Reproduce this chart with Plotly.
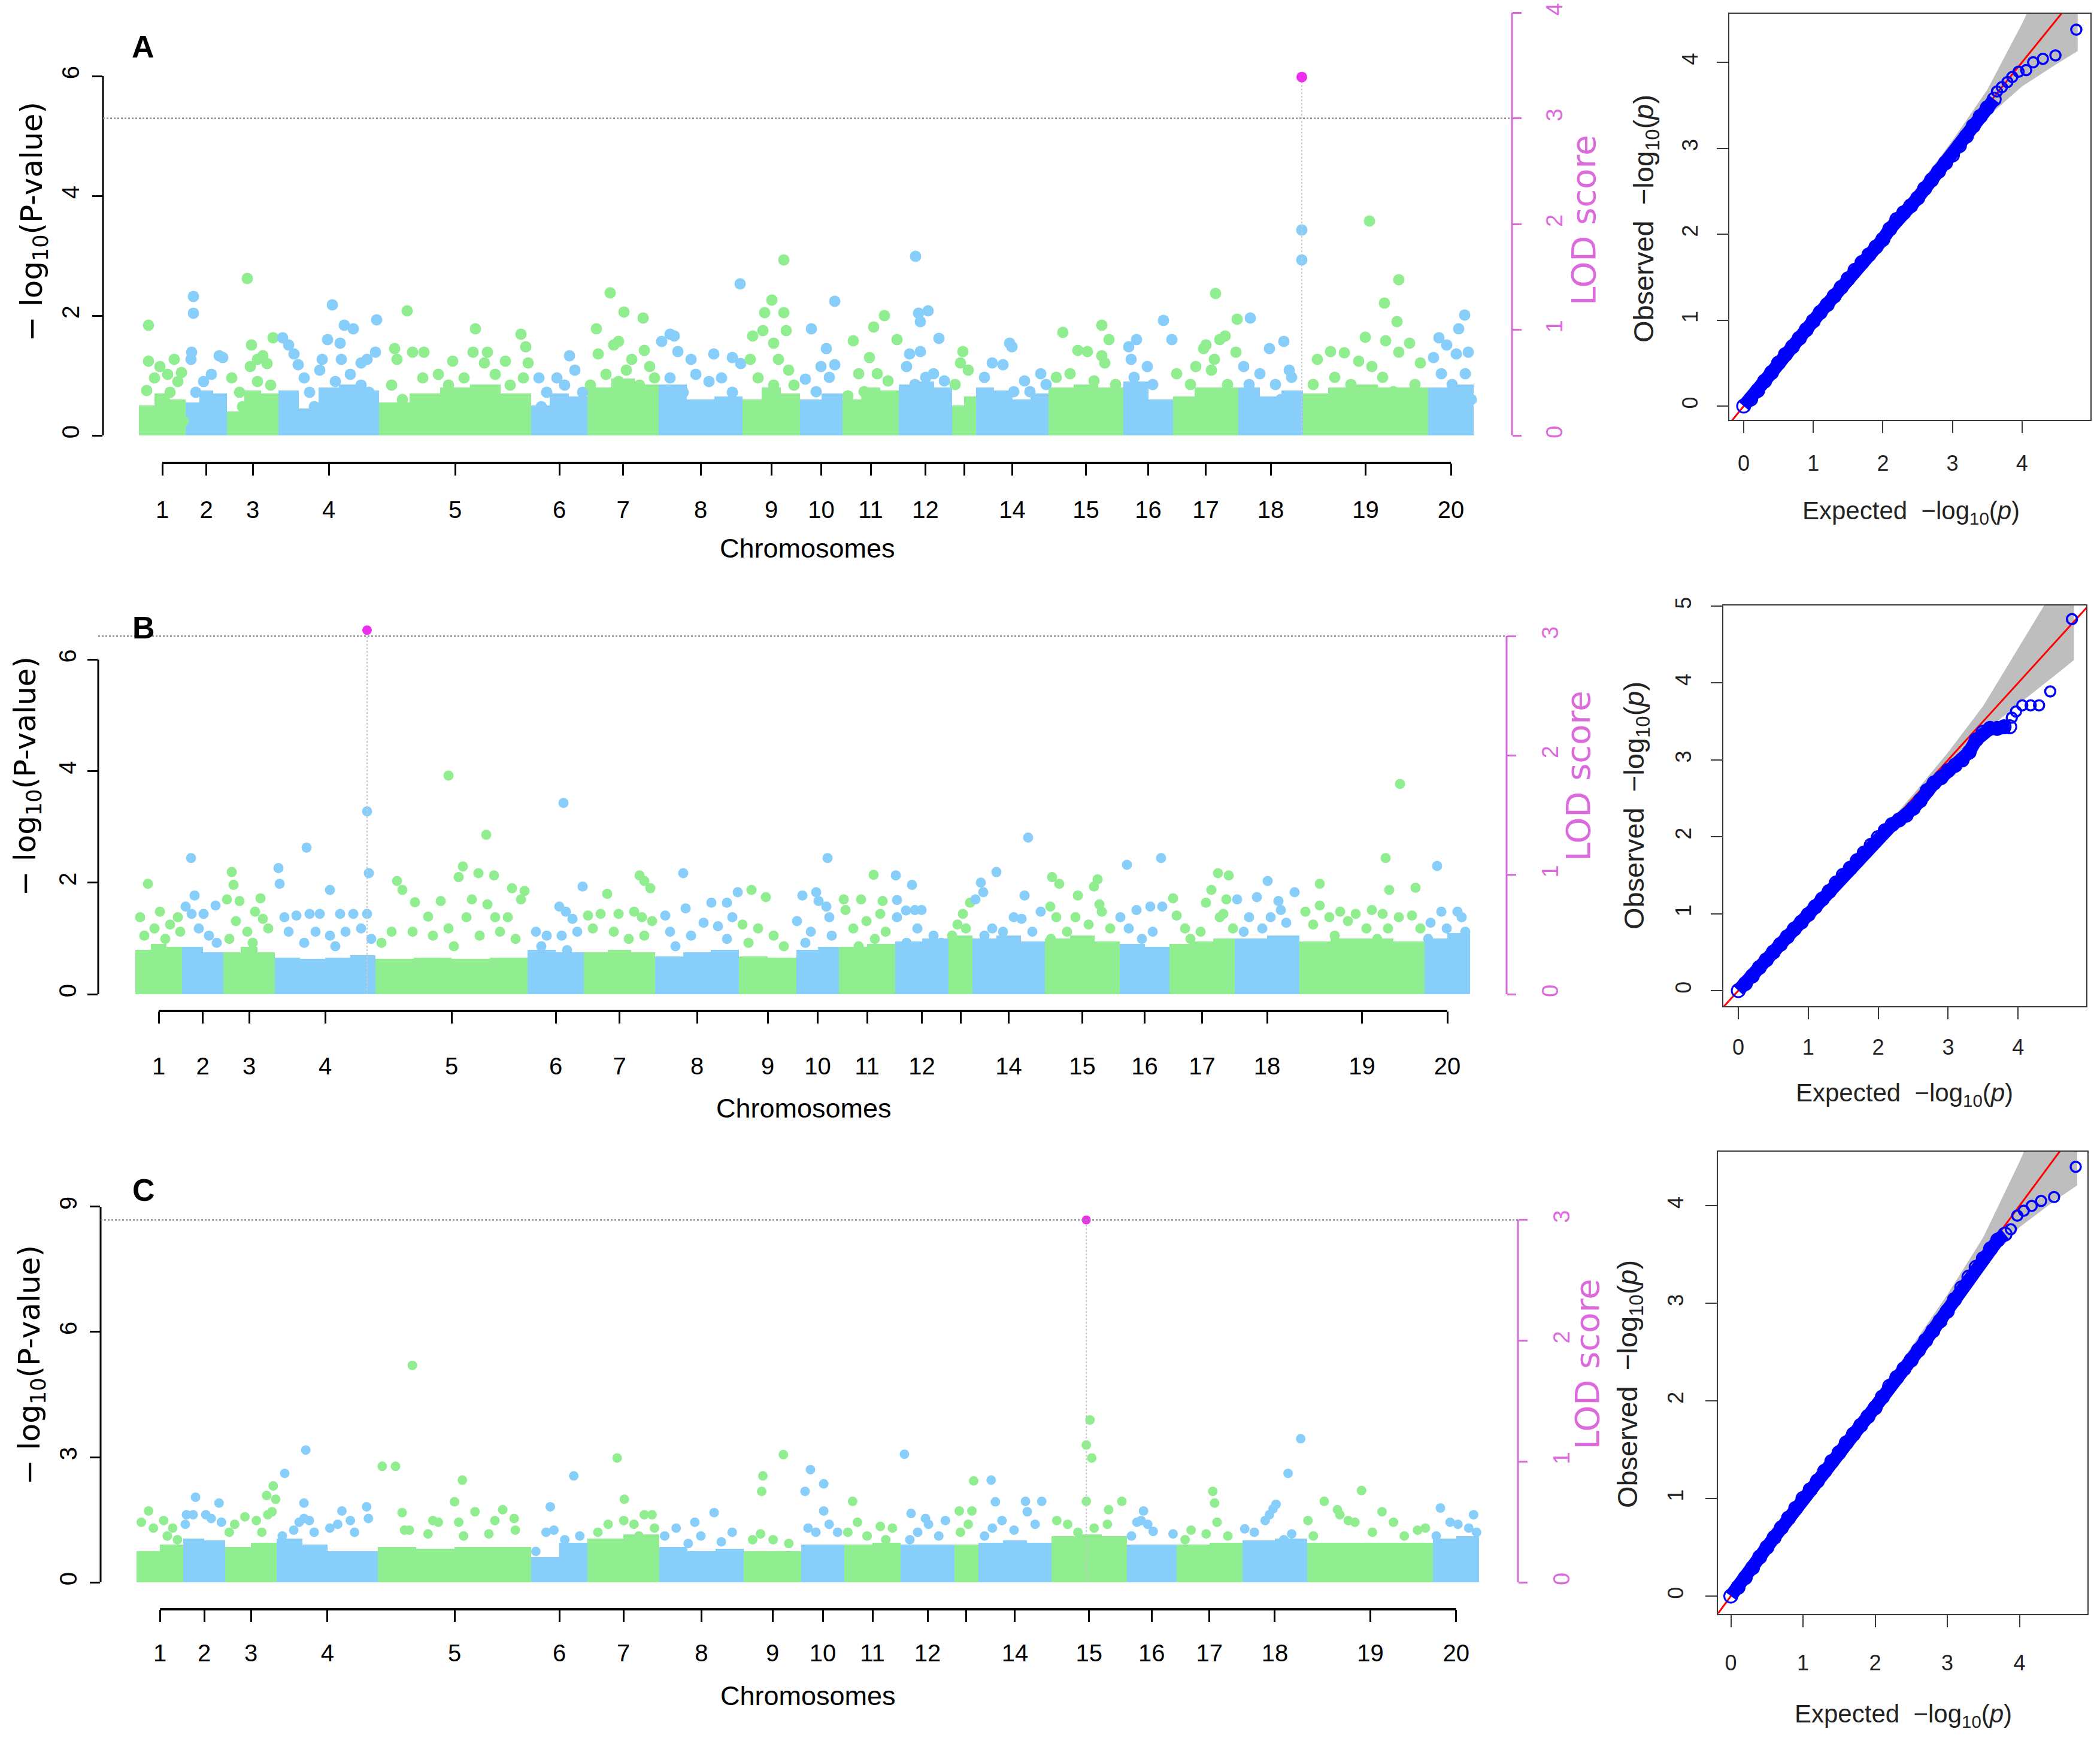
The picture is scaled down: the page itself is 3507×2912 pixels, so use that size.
import numpy as np
import plotly.graph_objects as go

W, H = 3507, 2912

# chromosome layout (relative lengths on the genome axis)
CHROM_NAMES = [str(i) for i in range(1, 21)]
CHROM_LEN = [78, 69, 86, 168, 254, 94, 119, 140, 96, 71, 94, 89, 40, 121, 125, 83, 109, 108, 209, 76]
GREEN, BLUE = "#90EE90", "#87CEFA"

# ---------------- panel A ----------------
A_SNPS = [
    (16, 1.84), (16, 1.24), (13, 0.75), (26, 0.96), (35, 1.15), (48, 1.02), (59, 1.27), (65, 0.9), (52, 0.72),
    (69, 0.42), (22, 0.36), (35, 0.6), (71, 1.05), (74, 0.24),
    (91, 2.32), (91, 2.04), (88, 1.39), (87, 1.27), (134, 1.33), (140, 1.30), (108, 0.9), (121, 1.02), (95, 0.72),
    (130, 0.6), (112, 0.48),
    (181, 2.62), (188, 1.51), (224, 1.63), (198, 1.27), (186, 1.15), (207, 1.33), (214, 1.2), (155, 0.96),
    (168, 0.72), (198, 0.9), (220, 0.84), (173, 0.48),
    (240, 1.63), (250, 1.51), (259, 1.36), (266, 1.18), (323, 2.18), (315, 1.6), (336, 1.54), (338, 1.27),
    (343, 1.84), (358, 1.78), (397, 1.93), (395, 1.39), (306, 1.27), (302, 1.09), (371, 1.21), (381, 1.27),
    (276, 0.96), (285, 0.72), (353, 1.02), (328, 0.9), (371, 0.84), (384, 0.72), (293, 0.48), (388, 0.36), (250, 0.6),
    (448, 2.08), (427, 1.45), (431, 1.27), (457, 1.39), (476, 1.39), (524, 1.24), (562, 1.78), (558, 1.39),
    (582, 1.39), (577, 1.21), (612, 1.24), (638, 1.69), (646, 1.48), (650, 1.21), (642, 0.96), (422, 0.84),
    (474, 0.96), (500, 1.02), (517, 0.84), (543, 0.96), (595, 1.02), (620, 0.84), (440, 0.6), (491, 0.48),
    (569, 0.6), (629, 0.48),
    (719, 1.33), (668, 0.96), (681, 0.72), (698, 0.96), (711, 0.84), (728, 1.09), (741, 0.72), (672, 0.48), (724, 0.42),
    (787, 2.38), (810, 2.06), (842, 1.96), (764, 1.78), (801, 1.57), (793, 1.51), (767, 1.36), (844, 1.42),
    (823, 1.27), (814, 1.09), (780, 1.02), (853, 1.15), (754, 0.84), (801, 0.9), (836, 0.84), (861, 0.96),
    (873, 1.57), (887, 1.69), (894, 1.66), (900, 1.4), (922, 1.27), (960, 1.36), (991, 1.3), (1004, 2.53),
    (1005, 1.2), (887, 0.96), (930, 1.02), (952, 0.9), (973, 0.96), (909, 0.72), (991, 0.72),
    (1077, 2.93), (1057, 2.26), (1045, 2.05), (1077, 2.05), (1042, 1.75), (1081, 1.75), (1025, 1.66), (1021, 1.27),
    (1060, 1.54), (1068, 1.27), (1085, 1.09), (1034, 0.96), (1060, 0.84), (1094, 0.84),
    (1162, 2.24), (1123, 1.78), (1148, 1.45), (1139, 1.15), (1162, 1.18), (1113, 0.94), (1131, 0.73), (1153, 0.97),
    (1166, 0.6), (1122, 0.36),
    (1245, 2.0), (1227, 1.81), (1193, 1.58), (1266, 1.6), (1220, 1.3), (1202, 1.03), (1233, 1.03), (1251, 0.91),
    (1211, 0.73), (1184, 0.66), (1260, 0.6),
    (1297, 2.99), (1302, 2.04), (1318, 2.08), (1305, 1.9), (1336, 1.62), (1305, 1.4), (1287, 1.36), (1282, 1.15),
    (1327, 1.03), (1345, 0.91), (1296, 0.85), (1314, 0.97),
    (1376, 1.4), (1372, 1.21), (1385, 1.09), (1363, 0.85), (1389, 0.48),
    (1454, 1.54), (1458, 1.48), (1425, 1.21), (1443, 1.18), (1412, 0.97), (1479, 0.91), (1506, 1.03), (1488, 0.73),
    (1461, 0.73), (1515, 0.85),
    (1608, 1.84), (1543, 1.72), (1620, 1.6), (1568, 1.42), (1584, 1.4), (1608, 1.33), (1613, 1.21), (1532, 0.97),
    (1555, 1.03), (1595, 0.91), (1631, 0.85), (1568, 0.66),
    (1711, 1.92), (1725, 1.6), (1666, 1.6), (1653, 1.48), (1657, 1.27), (1684, 1.15), (1662, 0.97), (1693, 0.85),
    (1711, 0.48),
    (1798, 2.37), (1834, 1.94), (1814, 1.66), (1805, 1.6), (1782, 1.51), (1778, 1.45), (1832, 1.39), (1796, 1.27),
    (1765, 1.15), (1733, 1.03), (1791, 1.09), (1756, 0.85), (1818, 0.85),
    (1856, 1.96), (1912, 1.57), (1888, 1.45), (1845, 1.15), (1872, 1.03), (1921, 1.09), (1925, 0.97), (1898, 0.85),
    (1854, 0.85), (1907, 0.6), (1942, 3.43), (1942, 2.93),
    (2055, 3.58), (2104, 2.6), (2080, 2.21), (2101, 1.9), (2048, 1.64), (2082, 1.58), (1990, 1.4), (2013, 1.38),
    (1968, 1.27), (2122, 1.54), (2104, 1.39), (2140, 1.21), (2037, 1.24), (1997, 0.97), (2059, 1.15), (2077, 0.97),
    (1961, 0.85), (2024, 0.85), (2131, 0.85), (2095, 0.73), (1979, 0.6),
    (2214, 2.01), (2204, 1.78), (2171, 1.63), (2184, 1.51), (2200, 1.36), (2220, 1.39), (2162, 1.3), (2215, 1.03),
    (2175, 1.03), (2193, 0.85), (2225, 0.6),
]
# height of the dense low-signal mass, a few sections per chromosome
A_BAND = [[0.5, 0.7, 0.6], [0.55, 0.75, 0.7], [0.4, 0.75, 0.7], [0.75, 0.45, 0.8, 0.85, 0.75],
          [0.55, 0.7, 0.8, 0.85, 0.7], [0.5, 0.7, 0.65], [0.8, 0.95, 0.85], [0.85, 0.6, 0.65], [0.6, 0.8, 0.7],
          [0.6, 0.7], [0.6, 0.8, 0.75], [0.85, 0.9, 0.8], [0.5, 0.65], [0.8, 0.75, 0.6, 0.7], [0.8, 0.85, 0.8],
          [0.9, 0.6], [0.65, 0.8, 0.8], [0.8, 0.65, 0.75], [0.7, 0.8, 0.85, 0.8, 0.8], [0.8, 0.85]]
A_PEAK = (1942, 3.39)   # position, LOD

# ---------------- panel B ----------------
B_SNPS = [
    (21, 1.98), (8, 1.38), (41, 1.48), (32, 1.18), (58, 1.25), (71, 1.38), (15, 1.05), (50, 0.99), (75, 1.12),
    (93, 2.44), (99, 1.77), (84, 1.57), (94, 1.44), (114, 1.44), (134, 1.59), (106, 1.18), (123, 1.05), (136, 0.92),
    (161, 2.19), (164, 1.96), (153, 1.7), (174, 1.67), (209, 1.72), (168, 1.31), (200, 1.48), (213, 1.35),
    (222, 1.18), (187, 1.12), (157, 0.99), (196, 0.92),
    (239, 2.26), (241, 1.98), (286, 2.63), (325, 1.87), (249, 1.38), (269, 1.41), (291, 1.44), (308, 1.44),
    (342, 1.44), (364, 1.44), (387, 1.44), (256, 1.12), (282, 0.92), (325, 1.05), (377, 1.18), (394, 0.99),
    (334, 0.86), (301, 1.12), (351, 1.12), (387, 3.28), (390, 2.17),
    (523, 3.92), (586, 2.86), (547, 2.29), (540, 2.1), (573, 2.17), (599, 2.13), (437, 2.03), (446, 1.87),
    (467, 1.65), (489, 1.39), (510, 1.67), (562, 1.7), (588, 1.61), (629, 1.9), (650, 1.85), (644, 1.7),
    (601, 1.38), (622, 1.38), (553, 1.38), (523, 1.18), (428, 1.12), (463, 1.12), (497, 1.05), (575, 1.05),
    (609, 1.12), (635, 0.99), (532, 0.86), (411, 0.92),
    (715, 3.43), (747, 1.93), (708, 1.57), (719, 1.48), (730, 1.35), (669, 1.12), (687, 1.05), (712, 1.05),
    (738, 1.12), (678, 0.86), (721, 0.79),
    (788, 1.8), (842, 2.13), (850, 2.03), (860, 1.9), (756, 1.41), (777, 1.44), (807, 1.44), (833, 1.48),
    (846, 1.38), (863, 1.31), (764, 1.18), (799, 1.12), (824, 0.99), (850, 1.05),
    (915, 2.17), (885, 1.41), (919, 1.54), (962, 1.64), (988, 1.64), (1006, 1.83), (949, 1.28), (973, 1.22),
    (997, 1.38), (893, 1.12), (928, 1.05), (988, 0.99), (902, 0.86),
    (1029, 1.87), (1053, 1.74), (1014, 1.25), (1040, 1.18), (1066, 1.05), (1083, 0.86), (1024, 0.92),
    (1156, 2.44), (1114, 1.77), (1137, 1.83), (1141, 1.67), (1154, 1.57), (1159, 1.38), (1105, 1.31), (1128, 1.12),
    (1163, 1.05), (1119, 0.92),
    (1233, 2.14), (1212, 1.7), (1183, 1.7), (1248, 1.67), (1186, 1.51), (1244, 1.44), (1221, 1.31), (1199, 1.18),
    (1253, 1.12), (1235, 0.99), (1208, 0.86),
    (1270, 2.13), (1297, 1.96), (1272, 1.69), (1287, 1.5), (1302, 1.51), (1313, 1.51), (1272, 1.38), (1306, 1.18),
    (1333, 1.05), (1346, 0.92), (1288, 0.92),
    (1394, 1.64), (1382, 1.44), (1373, 1.25), (1364, 1.05), (1387, 1.18),
    (1491, 2.81), (1438, 2.19), (1412, 2.0), (1416, 1.83), (1485, 1.77), (1403, 1.7), (1467, 1.38), (1480, 1.35),
    (1512, 1.48), (1431, 1.18), (1449, 1.12), (1498, 1.12), (1418, 1.05),
    (1531, 2.1), (1543, 1.98), (1607, 2.06), (1601, 1.93), (1574, 1.77), (1610, 1.61), (1528, 1.57), (1538, 1.38),
    (1570, 1.38), (1614, 1.48), (1592, 1.25), (1628, 1.18), (1556, 1.12), (1529, 0.99),
    (1656, 2.32), (1713, 2.44), (1672, 1.51), (1695, 1.57), (1715, 1.57), (1645, 1.38), (1659, 1.18), (1699, 1.12),
    (1681, 0.99),
    (1808, 2.17), (1826, 2.13), (1797, 1.87), (1733, 1.72), (1822, 1.7), (1788, 1.64), (1817, 1.44), (1811, 1.38),
    (1739, 1.41), (1753, 1.18), (1779, 1.12), (1833, 1.18), (1762, 0.99),
    (1891, 2.03), (1873, 1.74), (1840, 1.7), (1936, 1.83), (1909, 1.67), (1913, 1.51), (1860, 1.38), (1896, 1.38),
    (1882, 1.18), (1922, 1.28), (1851, 1.12),
    (2112, 3.77), (2088, 2.44), (2094, 1.87), (2138, 1.91), (1978, 1.98), (1978, 1.59), (1954, 1.48), (2012, 1.48),
    (2038, 1.44), (2065, 1.51), (2083, 1.44), (2110, 1.38), (2132, 1.41), (1967, 1.25), (1994, 1.38), (2025, 1.31),
    (2056, 1.18), (2092, 1.18), (2146, 1.18), (2003, 1.05), (2074, 0.99),
    (2174, 2.3), (2181, 1.48), (2208, 1.48), (2215, 1.38), (2163, 1.28), (2190, 1.18), (2221, 1.12), (2159, 0.99),
    (2201, 0.86),
]
B_BAND = [[0.8, 0.9, 0.85], [0.85, 0.75], [0.75, 0.85, 0.75], [0.65, 0.63, 0.65, 0.7], [0.63, 0.66, 0.63, 0.66],
          [0.8, 0.75], [0.75, 0.8, 0.75], [0.68, 0.75, 0.8], [0.68, 0.65], [0.8, 0.85], [0.85, 0.9], [0.95, 1.0],
          [1.05], [1.0, 1.05, 0.95], [1.0, 1.05, 0.95], [0.9, 0.85], [0.9, 0.95, 1.0], [1.0, 1.05],
          [0.95, 1.0, 1.0, 0.95], [1.0, 1.1]]
B_PEAK = (387, 3.05)

# ---------------- panel C ----------------
C_SNPS = [
    (20, 1.71), (8, 1.44), (28, 1.3), (45, 1.48), (60, 1.3), (51, 1.11), (68, 1.02),
    (98, 2.04), (83, 1.62), (94, 1.62), (137, 1.9), (115, 1.62), (124, 1.53), (141, 1.44), (81, 1.39),
    (216, 2.08), (227, 2.31), (231, 1.99), (218, 1.62), (225, 1.69), (180, 1.57), (199, 1.48), (163, 1.39),
    (154, 1.2), (208, 1.2),
    (281, 3.17), (246, 2.61), (278, 1.9), (278, 1.53), (270, 1.44), (287, 1.48), (341, 1.71), (382, 1.81),
    (385, 1.53), (261, 1.25), (295, 1.2), (321, 1.3), (334, 1.39), (355, 1.48), (362, 1.2), (242, 1.11),
    (458, 5.2), (408, 2.78), (430, 2.78), (541, 2.45), (528, 1.93), (562, 1.69), (608, 1.74), (627, 1.53),
    (441, 1.67), (445, 1.25), (453, 1.25), (492, 1.48), (501, 1.44), (535, 1.44), (595, 1.48), (585, 1.16),
    (629, 1.25), (484, 1.16), (543, 1.11),
    (726, 2.55), (687, 1.81), (693, 1.25), (680, 1.2), (736, 1.11), (711, 1.02), (663, 0.74),
    (798, 2.98), (810, 1.99), (843, 1.62), (856, 1.62), (809, 1.48), (783, 1.39), (766, 1.2), (826, 1.39),
    (860, 1.3), (834, 1.11),
    (959, 1.67), (927, 1.44), (896, 1.3), (877, 1.11), (937, 1.11), (989, 1.2), (916, 0.93), (971, 0.97),
    (1074, 3.06), (1040, 2.55), (1038, 2.18), (1036, 1.16), (1023, 1.02), (1057, 1.02), (1083, 0.93),
    (1119, 2.7), (1110, 2.18), (1141, 2.36), (1141, 1.71), (1150, 1.39), (1115, 1.3), (1128, 1.2), (1164, 1.2),
    (1189, 1.94), (1197, 1.44), (1235, 1.34), (1255, 1.3), (1181, 1.2), (1213, 1.11), (1244, 1.02),
    (1275, 3.07), (1286, 1.65), (1310, 1.53), (1315, 1.39), (1343, 1.48), (1332, 1.11), (1297, 1.2), (1284, 1.02),
    (1390, 2.43), (1366, 1.71), (1387, 1.71), (1381, 1.39), (1368, 1.2),
    (1419, 2.45), (1426, 1.93), (1476, 1.94), (1503, 1.94), (1479, 1.69), (1437, 1.48), (1421, 1.3), (1457, 1.25),
    (1492, 1.39), (1408, 1.11),
    (1583, 3.89), (1577, 3.29), (1586, 2.98), (1577, 1.94), (1614, 1.74), (1636, 1.94), (1612, 1.39), (1546, 1.39),
    (1528, 1.48), (1590, 1.3), (1563, 1.2),
    (1672, 1.71), (1668, 1.48), (1661, 1.44), (1679, 1.39), (1688, 1.22), (1721, 1.16), (1652, 1.11),
    (1787, 2.18), (1790, 1.9), (1794, 1.44), (1751, 1.25), (1776, 1.16), (1812, 1.11), (1741, 1.02),
    (1933, 3.44), (1912, 2.61), (1892, 1.87), (1887, 1.76), (1881, 1.62), (1874, 1.48), (1840, 1.28), (1856, 1.2),
    (1918, 1.16), (1905, 1.02),
    (2034, 2.2), (1972, 1.94), (1994, 1.74), (2068, 1.69), (1945, 1.48), (1998, 1.62), (2012, 1.48), (2023, 1.44),
    (2087, 1.44), (2127, 1.25), (2140, 1.3), (1954, 1.11), (2052, 1.2), (2105, 1.11),
    (2165, 1.78), (2220, 1.62), (2181, 1.44), (2194, 1.39), (2212, 1.3), (2225, 1.2), (2158, 1.11),
]
C_BAND = [[0.75, 0.9], [1.05, 1.0], [0.85, 0.95], [1.05, 0.9, 0.75, 0.75], [0.85, 0.8, 0.85, 0.85], [0.6, 0.95],
          [1.05, 1.15], [0.85, 0.75, 0.8], [0.75, 0.75], [0.9, 0.9], [0.9, 0.95], [0.9, 0.9], [0.9],
          [0.95, 1.0, 0.95], [1.1, 1.15, 1.1], [0.9, 0.9], [0.9, 0.95], [1.0, 1.05], [0.95, 0.95, 0.95], [1.05, 1.1]]
C_PEAK = (1577, 3.0)

LOD_THRESHOLD = 3

# ---------------- QQ plots (expected, observed) ----------------
QQ_A_DENSE = [(0.0, 0.0), (0.1, 0.08), (0.2, 0.18), (0.3, 0.29), (0.4, 0.39), (0.5, 0.5), (0.6, 0.6), (0.7, 0.69),
              (0.8, 0.79), (0.9, 0.89), (1.0, 0.99), (1.1, 1.09), (1.2, 1.18), (1.3, 1.28), (1.4, 1.38), (1.5, 1.48),
              (1.6, 1.58), (1.7, 1.67), (1.8, 1.76), (1.9, 1.85), (2.0, 1.94), (2.1, 2.06), (2.2, 2.17), (2.3, 2.25),
              (2.4, 2.33), (2.5, 2.42), (2.6, 2.53), (2.7, 2.63), (2.8, 2.73), (2.9, 2.83), (3.0, 2.92), (3.1, 3.03),
              (3.2, 3.14), (3.3, 3.26), (3.4, 3.37), (3.5, 3.47), (3.6, 3.57)]
QQ_A_TOP = [(3.64, 3.66), (3.71, 3.71), (3.79, 3.77), (3.86, 3.83), (3.95, 3.89), (4.06, 3.91), (4.16, 4.0),
            (4.30, 4.04), (4.48, 4.08), (4.78, 4.38)]
QQ_B_DENSE = [(0.0, 0.0), (0.1, 0.09), (0.2, 0.19), (0.3, 0.3), (0.4, 0.4), (0.5, 0.5), (0.6, 0.6), (0.7, 0.7),
              (0.8, 0.8), (0.9, 0.89), (1.0, 0.99), (1.1, 1.09), (1.2, 1.19), (1.3, 1.29), (1.4, 1.4), (1.5, 1.5),
              (1.6, 1.59), (1.7, 1.69), (1.8, 1.79), (1.9, 1.89), (2.0, 1.99), (2.1, 2.08), (2.2, 2.16), (2.3, 2.22),
              (2.4, 2.28), (2.5, 2.37), (2.6, 2.47), (2.7, 2.6), (2.8, 2.7), (2.9, 2.77), (3.0, 2.86), (3.1, 2.93),
              (3.2, 3.0), (3.3, 3.1), (3.4, 3.26), (3.5, 3.36), (3.6, 3.41), (3.7, 3.41), (3.8, 3.43), (3.88, 3.43)]
QQ_B_TOP = [(3.91, 3.55), (3.97, 3.63), (4.06, 3.71), (4.18, 3.71), (4.30, 3.71), (4.46, 3.89), (4.77, 4.83)]
QQ_C_DENSE = [(0.0, 0.0), (0.1, 0.09), (0.2, 0.19), (0.3, 0.29), (0.4, 0.4), (0.5, 0.5), (0.6, 0.6), (0.7, 0.7),
              (0.8, 0.8), (0.9, 0.9), (1.0, 1.0), (1.1, 1.09), (1.2, 1.18), (1.3, 1.28), (1.4, 1.38), (1.5, 1.47),
              (1.6, 1.57), (1.7, 1.66), (1.8, 1.75), (1.9, 1.84), (2.0, 1.93), (2.1, 2.04), (2.2, 2.15), (2.3, 2.24),
              (2.4, 2.33), (2.5, 2.42), (2.6, 2.52), (2.7, 2.62), (2.8, 2.72), (2.9, 2.82), (3.0, 2.92), (3.1, 3.04),
              (3.2, 3.16), (3.3, 3.27), (3.4, 3.37), (3.5, 3.46), (3.6, 3.56), (3.7, 3.65), (3.8, 3.71)]
QQ_C_TOP = [(3.88, 3.76), (3.97, 3.90), (4.06, 3.95), (4.17, 4.0), (4.30, 4.05), (4.48, 4.09), (4.78, 4.40)]

# 95% band around the diagonal
CI_EXP = [2.0, 2.5, 3.0, 3.5, 4.0, 4.5, 4.8]
CI_A_UP = [2.03, 2.55, 3.09, 3.68, 4.45, 5.3, 5.9]
CI_A_LO = [1.97, 2.45, 2.92, 3.36, 3.72, 3.98, 4.13]
CI_B_UP = [2.03, 2.55, 3.1, 3.7, 4.45, 5.2, 5.8]
CI_B_LO = [1.97, 2.45, 2.92, 3.35, 3.72, 4.08, 4.3]
CI_C_UP = [2.03, 2.55, 3.09, 3.68, 4.45, 5.3, 5.9]
CI_C_LO = [1.97, 2.45, 2.92, 3.38, 3.78, 4.06, 4.21]

# ---------------- page geometry (pixels) ----------------
MAN_GEOM = [
    dict(left=172, right=2525, top=21, bottom=773, cum0=232, ppu=1.0, y0=727, ppl=100.0, ppd=176.5,
         yticks=[0, 2, 4, 6], lodticks=[0, 1, 2, 3, 4], size=19, label="A", label_xy=(239, 78),
         ytitle=(56, 370), lodtitle=(2644, 368), xtitle=(1348, 915), xstand=23, ystand=6, lodstand=22),
    dict(left=164, right=2516, top=1030, bottom=1688, cum0=226, ppu=1.0, y0=1660, ppl=93.1, ppd=199.3,
         yticks=[0, 2, 4, 6], lodticks=[0, 1, 2, 3], size=17, label="B", label_xy=(240, 1048),
         ytitle=(45, 1296), lodtitle=(2635, 1296), xtitle=(1342, 1850), xstand=37, ystand=3, lodstand=24),
    dict(left=168, right=2535, top=1995, bottom=2687, cum0=228, ppu=1.0058, y0=2642, ppl=69.67, ppd=201.7,
         yticks=[0, 3, 6, 9], lodticks=[0, 1, 2, 3], size=16, label="C", label_xy=(240, 1987),
         ytitle=(52, 2279), lodtitle=(2650, 2278), xtitle=(1349, 2831), xstand=18, ystand=6, lodstand=24),
]
QQ_GEOM = [
    dict(left=2888, right=3491, top=23, bottom=701, x0=2912, ppx=116.2, y0=678, ppy=143.5,
         yticks=[0, 1, 2, 3, 4], obs=(2748, 365), exp=(3191, 855), xstand=20, ystand=18),
    dict(left=2878, right=3484, top=1011, bottom=1680, x0=2903, ppx=116.8, y0=1654, ppy=128.4,
         yticks=[0, 1, 2, 3, 4, 5], obs=(2732, 1345), exp=(3180, 1827), xstand=16, ystand=19),
    dict(left=2869, right=3486, top=1923, bottom=2695, x0=2890.5, ppx=120.5, y0=2665, ppy=162.9,
         yticks=[0, 1, 2, 3, 4], obs=(2721, 2311), exp=(3178, 2864), xstand=29, ystand=23),
]

# the capture sits the page slightly low near the top; undo it
Y_OFF, Y_SCALE = 16, 0.9945

SANS = "Liberation Sans, Arial, sans-serif"
LOD_COL = "#D768D7"
LOD_TXT = "#DD6ADD"
PEAK_COL = "#EE2EEE"


def fx(px):
    return px / W


def fy(py):
    return 1 - ((py - Y_OFF) / Y_SCALE) / H


def aref(letter, n):
    return letter if n == 1 else f"{letter}{n}"


def akey(letter, n):
    return f"{letter}axis" if n == 1 else f"{letter}axis{n}"


starts = np.concatenate([[0], np.cumsum(CHROM_LEN)[:-1]])
mids = starts + np.array(CHROM_LEN) / 2.0
chrom_cols = [GREEN if i % 2 == 0 else BLUE for i in range(len(CHROM_LEN))]
# R dropped the overlapping "13" label
tick_text = ["" if c == "13" else c for c in CHROM_NAMES]


def band_bars(band):
    xs, ws, hs, cs = [], [], [], []
    for c, heights in enumerate(band):
        w = CHROM_LEN[c] / len(heights)
        for j, h in enumerate(heights):
            xs.append(starts[c] + (j + 0.5) * w)
            ws.append(w)
            hs.append(h)
            cs.append(chrom_cols[c])
    return xs, ws, hs, cs


fig = go.Figure()
layout = {}
shapes = []
annots = []

panels = [
    (A_SNPS, A_BAND, A_PEAK, QQ_A_DENSE, QQ_A_TOP, CI_A_UP, CI_A_LO),
    (B_SNPS, B_BAND, B_PEAK, QQ_B_DENSE, QQ_B_TOP, CI_B_UP, CI_B_LO),
    (C_SNPS, C_BAND, C_PEAK, QQ_C_DENSE, QQ_C_TOP, CI_C_UP, CI_C_LO),
]

for k, (snps, band, peak, qq_dense, qq_top, ci_up, ci_lo) in enumerate(panels):
    g = MAN_GEOM[k]
    q = QQ_GEOM[k]
    nx_m, nx_q = 2 * k + 1, 2 * k + 2
    ny_m, ny_l, ny_q = 3 * k + 1, 3 * k + 2, 3 * k + 3
    xm, ym, yl = aref("x", nx_m), aref("y", ny_m), aref("y", ny_l)
    xq, yq = aref("x", nx_q), aref("y", ny_q)

    pos = np.array([p for p, _ in snps], dtype=float)
    logp = np.array([v for _, v in snps])
    cidx = np.searchsorted(starts, pos, side="right") - 1

    # dense low-signal mass of markers
    bx, bw, bh, bc = band_bars(band)
    fig.add_trace(go.Bar(x=bx, y=bh, width=bw, marker=dict(color=bc, line_width=0),
                         xaxis=xm, yaxis=ym, hoverinfo="skip"))
    fig.add_trace(go.Scatter(x=pos, y=logp, mode="markers", xaxis=xm, yaxis=ym,
                             marker=dict(size=g["size"], color=[chrom_cols[i] for i in cidx], line_width=0),
                             hoverinfo="skip"))
    # QTL peak on the LOD scale
    fig.add_trace(go.Scatter(x=[peak[0], peak[0]], y=[0, peak[1]], mode="lines", xaxis=xm, yaxis=yl,
                             line=dict(color="#C9C9C9", width=2, dash="dot"), hoverinfo="skip"))
    fig.add_trace(go.Scatter(x=[peak[0]], y=[peak[1]], mode="markers", xaxis=xm, yaxis=yl,
                             marker=dict(size=g["size"] - 1, color=PEAK_COL, line_width=0), hoverinfo="skip"))

    xr = [(g["left"] - g["cum0"]) / g["ppu"], (g["right"] - g["cum0"]) / g["ppu"]]
    yr = [(g["y0"] - g["bottom"]) / g["ppl"], (g["y0"] - g["top"]) / g["ppl"]]
    lr = [(g["y0"] - g["bottom"]) / g["ppd"], (g["y0"] - g["top"]) / g["ppd"]]
    xdom = [fx(g["left"]), fx(g["right"])]
    ydom = [fy(g["bottom"]), fy(g["top"])]

    layout[akey("x", nx_m)] = dict(domain=xdom, range=xr, anchor=ym, showgrid=False, zeroline=False,
                                   showline=False, tickmode="array", tickvals=mids, ticktext=tick_text,
                                   ticks="outside", ticklen=20, tickwidth=3, tickcolor="black",
                                   tickfont=dict(family=SANS, size=40, color="black"),
                                   ticklabelstandoff=g["xstand"])
    layout[akey("y", ny_m)] = dict(domain=ydom, range=yr, anchor=xm, showgrid=False, zeroline=False,
                                   showline=False, tickmode="array", tickvals=g["yticks"],
                                   ticks="outside", ticklen=17, tickwidth=3, tickcolor="black", tickangle=-90,
                                   tickfont=dict(family=SANS, size=40, color="black"),
                                   ticklabelstandoff=g["ystand"])
    layout[akey("y", ny_l)] = dict(overlaying=ym, side="right", anchor=xm, range=lr, showgrid=False,
                                   zeroline=False, showline=False, tickmode="array", tickvals=g["lodticks"],
                                   ticks="outside", ticklen=15, tickwidth=3, tickcolor=LOD_COL, tickangle=-90,
                                   tickfont=dict(family=SANS, size=38, color=LOD_TXT),
                                   ticklabelstandoff=g["lodstand"])

    # R-style axis lines spanning only the tick range
    shapes.append(dict(type="line", xref=f"{xm} domain", yref=ym, x0=0, x1=0,
                       y0=g["yticks"][0], y1=g["yticks"][-1], line=dict(color="black", width=3)))
    shapes.append(dict(type="line", xref=xm, yref=f"{ym} domain", x0=mids[0], x1=mids[-1], y0=0, y1=0,
                       line=dict(color="black", width=4)))
    shapes.append(dict(type="line", xref=f"{xm} domain", yref=yl, x0=1, x1=1,
                       y0=g["lodticks"][0], y1=g["lodticks"][-1], line=dict(color=LOD_COL, width=3)))
    shapes.append(dict(type="line", xref=f"{xm} domain", yref=yl, x0=0, x1=1, y0=LOD_THRESHOLD,
                       y1=LOD_THRESHOLD, line=dict(color="#8E8E8E", width=2.5, dash="dot")))

    annots.append(dict(text=f"<b>{g['label']}</b>", x=fx(g["label_xy"][0]), y=fy(g["label_xy"][1]),
                       xref="paper", yref="paper", showarrow=False, xanchor="center", yanchor="middle",
                       font=dict(family=SANS, size=52, color="black")))
    annots.append(dict(text="− log<sub>10</sub>(P-value)", x=fx(g["ytitle"][0]), y=fy(g["ytitle"][1]),
                       xref="paper", yref="paper", showarrow=False, textangle=-90,
                       xanchor="center", yanchor="middle", font=dict(family="DejaVu Sans", size=50, color="black")))
    annots.append(dict(text="LOD score", x=fx(g["lodtitle"][0]), y=fy(g["lodtitle"][1]),
                       xref="paper", yref="paper", showarrow=False, textangle=-90,
                       xanchor="center", yanchor="middle", font=dict(family="DejaVu Sans", size=56, color=LOD_TXT)))
    annots.append(dict(text="Chromosomes", x=fx(g["xtitle"][0]), y=fy(g["xtitle"][1]),
                       xref="paper", yref="paper", showarrow=False, xanchor="center", yanchor="middle",
                       font=dict(family=SANS, size=45, color="black")))

    # ---- QQ plot ----
    qxr = [(q["left"] - q["x0"]) / q["ppx"], (q["right"] - q["x0"]) / q["ppx"]]
    qyr = [(q["y0"] - q["bottom"]) / q["ppy"], (q["y0"] - q["top"]) / q["ppy"]]
    fig.add_trace(go.Scatter(x=CI_EXP + CI_EXP[::-1], y=ci_up + ci_lo[::-1], fill="toself",
                             fillcolor="#BEBEBE", line=dict(width=0), mode="lines",
                             xaxis=xq, yaxis=yq, hoverinfo="skip"))
    fig.add_trace(go.Scatter(x=[qxr[0], qxr[1] + 2], y=[qxr[0], qxr[1] + 2], mode="lines",
                             line=dict(color="#FF0000", width=3), xaxis=xq, yaxis=yq, hoverinfo="skip"))
    fig.add_trace(go.Scatter(x=[e for e, _ in qq_dense], y=[o for _, o in qq_dense], mode="lines+markers",
                             line=dict(color="#0000FF", width=22),
                             marker=dict(symbol="circle-open", size=22, color="#0000FF", line_width=3),
                             xaxis=xq, yaxis=yq, hoverinfo="skip"))
    fig.add_trace(go.Scatter(x=[e for e, _ in qq_top], y=[o for _, o in qq_top], mode="markers",
                             marker=dict(symbol="circle-open", size=17, color="#0000FF", line_width=3.5),
                             xaxis=xq, yaxis=yq, hoverinfo="skip"))

    layout[akey("x", nx_q)] = dict(domain=[fx(q["left"]), fx(q["right"])], range=qxr, anchor=yq,
                                   showgrid=False, zeroline=False, showline=True, mirror=True,
                                   linecolor="#3A3A3A", linewidth=2, tickmode="array", tickvals=[0, 1, 2, 3, 4],
                                   ticks="outside", ticklen=20, tickwidth=2, tickcolor="#3A3A3A",
                                   tickfont=dict(family=SANS, size=36, color="#222222"),
                                   ticklabelstandoff=q["xstand"])
    layout[akey("y", ny_q)] = dict(domain=[fy(q["bottom"]), fy(q["top"])], range=qyr, anchor=xq,
                                   showgrid=False, zeroline=False, showline=True, mirror=True,
                                   linecolor="#3A3A3A", linewidth=2, tickmode="array", tickvals=q["yticks"],
                                   ticks="outside", ticklen=19, tickwidth=2, tickcolor="#3A3A3A", tickangle=-90,
                                   tickfont=dict(family=SANS, size=36, color="#222222"),
                                   ticklabelstandoff=q["ystand"])
    annots.append(dict(text="Observed  −log<sub>10</sub>(<i>p</i>)", x=fx(q["obs"][0]), y=fy(q["obs"][1]),
                       xref="paper", yref="paper", showarrow=False, textangle=-90,
                       xanchor="center", yanchor="middle", font=dict(family=SANS, size=47, color="#222222")))
    annots.append(dict(text="Expected  −log<sub>10</sub>(<i>p</i>)", x=fx(q["exp"][0]), y=fy(q["exp"][1]),
                       xref="paper", yref="paper", showarrow=False,
                       xanchor="center", yanchor="middle", font=dict(family=SANS, size=42, color="#222222")))

fig.update_layout(width=W, height=H, margin=dict(l=0, r=0, t=0, b=0), showlegend=False,
                  paper_bgcolor="white", plot_bgcolor="white", bargap=0,
                  shapes=shapes, annotations=annots, **layout)

# drop the browser's default 8px body margin so the page lines up with the pixel layout
fig.write_html("out.html", config={"displayModeBar": False},
               post_script="document.body.style.margin='0px';")
